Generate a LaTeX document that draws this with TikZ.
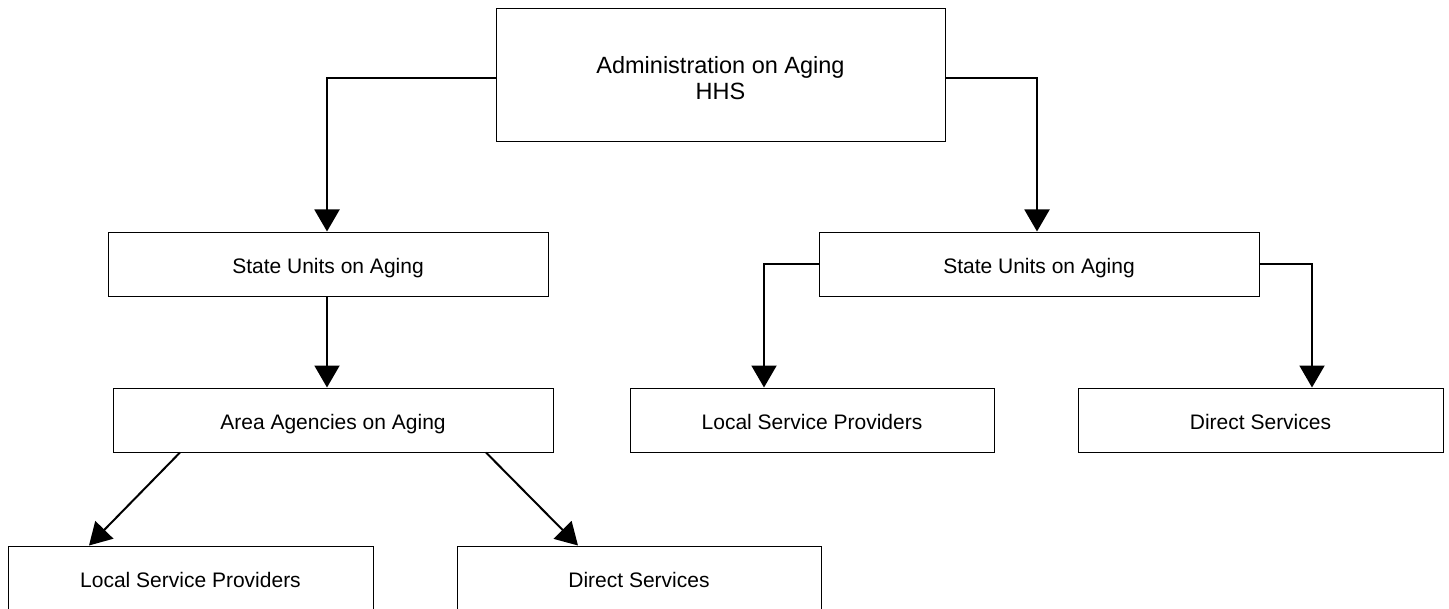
\documentclass[tikz,border=0pt]{standalone}
\usepackage{fontspec}
\setmainfont{Liberation Sans}
\usetikzlibrary{arrows.meta,positioning}

\begin{document}
\begin{tikzpicture}[x=0.5pt,y=-0.5pt,
    box/.style={draw,line width=0.5pt,minimum height=32pt,inner sep=0pt,
        font=\fontsize{10.5}{12.6}\selectfont,align=center,
        text height=0.9em,text depth=0pt},
    link/.style={line width=1pt,-{Triangle[length=11pt,width=12.5pt]}}]
    \clip (0,0) rectangle (1449,609);

    % Top agency
    \node[box,minimum width=224.5pt,minimum height=66.5pt,
          font=\fontsize{11.75}{13}\selectfont,text height=24pt] (aoa) at (720.5,75.5)
          {Administration on Aging\\HHS};

    % State level
    \node[box,minimum width=220pt] (sualeft) at (328,264) {State Units on Aging};
    \node[box,minimum width=220pt] (suaright) at (1039,264) {State Units on Aging};

    % Left branch
    \node[box,minimum width=220pt] (aaa) at (333,420) {Area Agencies on Aging};
    \node[box,minimum width=182.5pt] (lspleft) at (190.5,578) {Local Service Providers};
    \node[box,minimum width=182pt] (dsleft) at (639,578) {Direct Services};

    % Right branch
    \node[box,minimum width=182pt] (lspright) at (812,420) {Local Service Providers};
    \node[box,minimum width=182.5pt] (dsright) at (1260.5,420) {Direct Services};

    % Connectors
    \draw[link] (aoa.west |- 0,78) -| (sualeft.north -| 327,0);
    \draw[link] (aoa.east |- 0,78) -| (suaright.north -| 1037,0);
    \draw[link] (sualeft.south -| 327,0) -- (aaa.north -| 327,0);
    \draw[link] (aaa.south -| 180,0) -- (lspleft.north -| 89,0);
    \draw[link] (aaa.south -| 486,0) -- (dsleft.north -| 578,0);
    \draw[link] (suaright.west) -| (lspright.north -| 764,0);
    \draw[link] (suaright.east) -| (dsright.north -| 1312,0);
\end{tikzpicture}
\end{document}
